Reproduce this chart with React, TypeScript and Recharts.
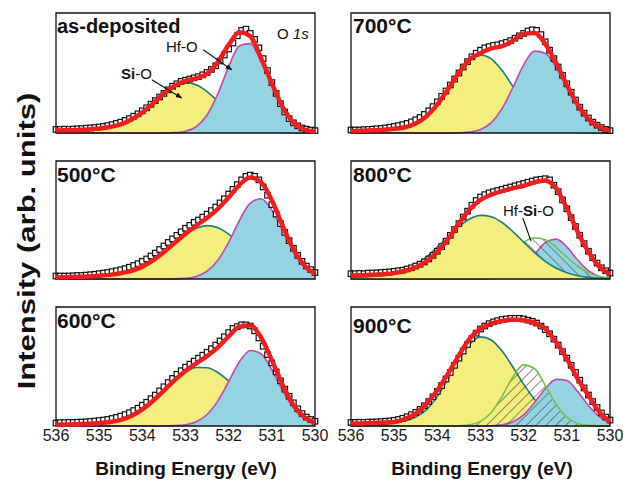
import React from 'react'
import { ComposedChart, Area, Line, Scatter, XAxis, YAxis, ReferenceArea, ReferenceLine } from 'recharts'

// binding energy grids (eV)
const energyData = [536, 535.9, 535.8, 535.7, 535.6, 535.5, 535.4, 535.3, 535.2, 535.1, 535, 534.9, 534.8, 534.7, 534.6, 534.5, 534.4, 534.3, 534.2, 534.1, 534, 533.9, 533.8, 533.7, 533.6, 533.5, 533.4, 533.3, 533.2, 533.1, 533, 532.9, 532.8, 532.7, 532.6, 532.5, 532.4, 532.3, 532.2, 532.1, 532, 531.9, 531.8, 531.7, 531.6, 531.5, 531.4, 531.3, 531.2, 531.1, 531, 530.9, 530.8, 530.7, 530.6, 530.5, 530.4, 530.3, 530.2, 530.1, 530]
const energyFit = [536, 535.75, 535.5, 535.25, 535, 534.75, 534.5, 534.25, 534, 533.75, 533.5, 533.25, 533, 532.75, 532.5, 532.25, 532, 531.75, 531.5, 531.25, 531, 530.75, 530.5, 530.25, 530]
const energyTicks = [536, 535, 534, 533, 532, 531, 530]

// as-deposited
const asDepData = [3, 3, 3.2, 3, 3.3, 3.5, 3.7, 4, 4.2, 4.6, 5, 5.5, 6.2, 7, 8, 9, 10.5, 12, 14, 16, 18.5, 21, 24, 27, 30, 33, 36, 39, 41, 43, 44, 45, 46, 47, 48.5, 50.5, 53, 56, 60, 65, 70, 75, 81, 85.5, 86.5, 83, 78, 71, 62, 52, 42, 33, 24.5, 17.5, 12, 8.5, 6, 4.2, 3.2, 2.5, 2]
const asDepFit = [2, 2.2, 2.5, 3, 3.7, 5, 7.2, 11.2, 17.2, 24.7, 33, 39.5, 43.5, 45.6, 49.5, 59.1, 73.4, 83.9, 80.7, 62.5, 41.3, 21.5, 8.7, 3, 1]
const asDepSiO = [1.5, 1.8, 2.2, 2.8, 3.5, 4.8, 7, 11, 17, 24.5, 32.7, 39.2, 42, 40.2, 34.5, 26.5, 18.2, 11.2, 6.2, 3, 1.3, 0.5, 0.2, 0, 0]
const asDepHfO = [0, 0, 0, 0, 0, 0, 0, 0, 0, 0, 0, 0.3, 1.5, 5.4, 15, 32.6, 55.2, 72.7, 74.5, 59.5, 40, 21, 8.5, 3, 1]

// 500 C
const t500Data = [2.5, 2.5, 2.5, 2.5, 2.7, 3, 3, 3.3, 3.6, 4, 4.5, 5, 5.5, 6.2, 7, 7.8, 8.8, 10, 11.5, 13, 15, 17, 19.5, 22, 25, 28, 31, 34, 37, 40, 43, 45.5, 48, 50, 52.5, 55, 58, 61, 64.5, 68, 72, 76, 80, 84, 87, 88, 87, 84, 78, 71, 63, 55, 47, 39.5, 32.5, 26, 20, 15, 11, 8, 5.5]
const t500Fit = [1.2, 1.5, 1.8, 2.2, 2.8, 3.5, 4.8, 6.8, 10.5, 15.7, 22.8, 30.6, 38.3, 45.2, 51.8, 59.4, 69.1, 79.8, 86.1, 82.1, 66.8, 45.2, 25.3, 11.7, 4.4]
const t500SiO = [1.2, 1.5, 1.8, 2.2, 2.8, 3.5, 4.8, 6.8, 10.5, 15.7, 22.8, 30.5, 37.7, 43, 45.2, 43.5, 38, 30.1, 21.7, 14.1, 8.4, 4.5, 2.2, 1, 0.4]
const t500HfO = [0, 0, 0, 0, 0, 0, 0, 0, 0, 0, 0, 0.1, 0.6, 2.2, 6.6, 15.9, 31.1, 49.7, 64.4, 68, 58.4, 40.7, 23.1, 10.7, 4]

// 600 C
const t600Data = [2.5, 2.8, 2.8, 3, 3, 3.2, 3.3, 3.5, 3.8, 4.2, 4.6, 5, 5.6, 6.3, 7.2, 8.3, 9.6, 11.2, 13, 15, 17.5, 20, 23, 26, 29.5, 33, 36.5, 40, 43.5, 46.5, 49.5, 52, 54.5, 57, 59.5, 62, 65, 68, 71.5, 75, 78.5, 82, 83.5, 85, 85, 84, 80, 74, 67, 60, 53, 45.5, 38, 31, 25, 19.5, 14.5, 10.5, 7.5, 5.5, 4]
const t600Fit = [1, 1.2, 1.5, 1.9, 2.5, 3.3, 5.2, 8.4, 13.9, 21.2, 29.8, 38.6, 46.3, 52.7, 58.7, 66.1, 75.3, 83.4, 84.4, 74.4, 55.4, 34.4, 17.6, 7.5, 2.7]
const t600SiO = [1, 1.2, 1.5, 1.9, 2.5, 3.3, 5.2, 8.4, 13.9, 21.2, 29.8, 38.3, 45.2, 49.1, 49, 45, 37.9, 29.4, 20.9, 13.7, 8.2, 4.6, 2.3, 1.1, 0.5]
const t600HfO = [0, 0, 0, 0, 0, 0, 0, 0, 0, 0, 0, 0.3, 1.1, 3.6, 9.7, 21.1, 37.4, 54, 63.5, 60.7, 47.2, 29.8, 15.3, 6.4, 2.2]

// 700 C
const t700Data = [2.5, 2.5, 2.5, 2.8, 3, 3.2, 3.5, 3.8, 4.2, 4.8, 5.5, 6.2, 7, 8, 9.3, 11, 13, 15.5, 18.5, 22, 26, 30.5, 35, 40, 45, 50, 55, 59.5, 63.5, 66.5, 69, 71, 72, 73, 73.5, 74.5, 75.5, 77, 79, 81, 83, 85, 86, 85.5, 82, 76, 69, 62, 55, 48, 41, 34, 27.5, 21.5, 16.5, 12.5, 9, 6.5, 4.5, 3, 2]
const t700Fit = [1.5, 1.8, 2.2, 2.8, 3.6, 4.8, 8, 14, 23.8, 36.7, 50.2, 61.4, 66.5, 70.5, 72.3, 76.8, 82.6, 83.3, 74.3, 58.5, 40, 23.5, 11.8, 5, 1.8]
const t700SiO = [1.5, 1.8, 2.2, 2.8, 3.6, 4.8, 8, 14, 23.8, 36.7, 50, 60.6, 65, 61.8, 52, 38.9, 25.8, 15.1, 7.9, 3.6, 1.5, 0.5, 0.2, 0, 0]
const t700HfO = [0, 0, 0, 0, 0, 0, 0, 0, 0, 0, 0.2, 0.8, 3, 8.7, 20.3, 37.9, 56.8, 68.2, 66.4, 54.9, 38.5, 23, 11.6, 5, 1.8]

// 800 C
const t800Data = [4.5, 4.5, 4.8, 4.5, 5, 5, 5.2, 5.5, 5.8, 6, 6.5, 7, 7.5, 8.5, 9.5, 11, 12.5, 14.5, 17, 20, 23.5, 27.5, 32, 37, 42, 47, 52.5, 57.5, 62.5, 66.5, 69.5, 71.5, 73, 74, 75, 76, 77, 78, 79, 80, 81, 82, 83, 84, 84.5, 85, 84, 79.5, 74, 67, 59.5, 52, 44.5, 37, 30, 23.5, 18, 13.5, 9.5, 7, 5]
const t800Fit = [3, 3.2, 3.5, 4, 5, 7, 10, 15, 23, 34, 47, 59, 67, 71.5, 74.5, 77, 79, 82, 83.5, 77, 60, 40, 23, 10.5, 4]
const t800SiO = [1.5, 1.8, 2.2, 2.8, 4.2, 7.1, 12, 18.7, 27, 36, 44.5, 50.9, 53.9, 52.8, 47.9, 40.2, 31.3, 22.5, 15, 9.3, 5.3, 2.8, 1.4, 0.6, 0.3]
const t800HfSiO = [0, 0, 0, 0, 0, 0, 0, 0, 0, 0, 0.5, 1.5, 3.9, 8.3, 15.2, 23.6, 31.1, 34.9, 33.2, 26.9, 18.5, 10.8, 5.4, 2.3, 0.8]
const t800HfO = [0, 0, 0, 0, 0, 0, 0, 0, 0, 0, 0, 0, 0, 0.2, 1, 3.7, 10.1, 20.6, 30.8, 33.8, 27.2, 16.1, 7, 2.2, 0.5]

// 900 C
const t900Data = [3, 3, 3.2, 3, 3.3, 3.3, 3.5, 3.7, 4, 4.3, 4.8, 5.5, 6.5, 7.8, 9.5, 11.5, 14, 17, 20.5, 24.5, 29, 34, 39.5, 45, 51, 57, 63, 68.5, 73.5, 78, 81.5, 84, 86, 87.5, 88.5, 89.5, 90, 90.5, 90.5, 90.5, 90, 89, 88, 86.5, 84, 81, 77.5, 73, 68, 62.5, 57, 51, 45, 38.5, 32, 26, 20.5, 15.5, 11, 7.5, 5]
const t900Fit = [2, 2.2, 2.5, 2.9, 3.4, 6, 10.4, 18.8, 30, 44, 59.4, 73.4, 81.8, 86, 88.2, 89.6, 88.8, 86.8, 81.8, 70.6, 56.6, 39.8, 25.8, 11.8, 3.4]
const t900SiO = [1.2, 1.5, 1.9, 2.4, 3.2, 4.3, 7.5, 13.7, 24.9, 39.7, 55.7, 68.8, 74.9, 72.3, 63, 49.6, 35.2, 22.5, 13, 6.8, 3.2, 1.4, 0.5, 0.2, 0]
const t900HfSiO = [0, 0, 0, 0, 0, 0, 0, 0, 0, 0, 0.2, 1, 3.9, 11.4, 24.9, 41.2, 51.4, 48.3, 34.2, 18.3, 7.3, 2.2, 0.5, 0.1, 0]
const t900HfO = [0, 0, 0, 0, 0, 0, 0, 0, 0, 0, 0, 0, 0, 0.2, 1, 3.6, 9.4, 19.5, 31.3, 39.2, 38.2, 29, 17.2, 7.9, 2.8]

const FONT = 'Arial, "Liberation Sans", Helvetica, sans-serif'
const YELLOW = '#f3ee7e'
const TEAL = '#17807f'
const BLUE = '#94d3e2'
const MAGENTA = '#c545b4'
const GREEN = '#72c24b'
const RED = '#f21d1d'
const SQ = 5.5
const PLOT_W = 259

const rows = (xs: number[], ys: number[]) => xs.map((e, i) => ({ e, v: ys[i] }))

const siO = (ys: number[]) => ({ ys, fill: YELLOW, stroke: TEAL })
const hfO = (ys: number[]) => ({ ys, fill: BLUE, stroke: MAGENTA })
const hfSiO = (ys: number[], hatch: string) => ({ ys, fill: `url(#${hatch})`, stroke: GREEN })

const panels = [
  { id: 'ad', x: 56, y: 13, h: 120, data: asDepData, fit: asDepFit, layers: [siO(asDepSiO), hfO(asDepHfO)], axis: false,
    arrows: [[532.59, 69.4, 531.93, 52.7], [533.78, 44.4, 533.09, 29.2]], head: true },
  { id: 't700', x: 351, y: 13, h: 120, data: t700Data, fit: t700Fit, layers: [siO(t700SiO), hfO(t700HfO)], axis: false, arrows: [], head: false },
  { id: 't500', x: 56, y: 161, h: 118, data: t500Data, fit: t500Fit, layers: [siO(t500SiO), hfO(t500HfO)], axis: false, arrows: [], head: false },
  { id: 't800', x: 351, y: 161, h: 118, data: t800Data, fit: t800Fit,
    layers: [hfO(t800HfO), hfSiO(t800HfSiO, 'hatchBack'), siO(t800SiO)], axis: false,
    arrows: [[532.02, 51.7, 531.83, 32.2]], head: false },
  { id: 't600', x: 56, y: 307, h: 119, data: t600Data, fit: t600Fit, layers: [siO(t600SiO), hfO(t600HfO)], axis: true, arrows: [], head: false },
  { id: 't900', x: 351, y: 307, h: 119, data: t900Data, fit: t900Fit,
    layers: [siO(t900SiO), hfO(t900HfO), hfSiO(t900HfSiO, 'hatchFwd')], axis: true, arrows: [], head: false },
]

type P = (typeof panels)[number]

function Axes({ p, labels }: { p: P; labels: boolean }) {
  const axisH = p.axis ? 26 : 0
  return [
    <XAxis
      key="x"
      type="number"
      dataKey="e"
      domain={[530, 536]}
      reversed
      ticks={energyTicks}
      interval={0}
      hide={!p.axis}
      height={axisH}
      tickLine={false}
      axisLine={false}
      tickSize={2}
      tickMargin={2}
      tick={labels ? { fontSize: 16, fill: '#1a1a1a', fontFamily: FONT } : false}
    />,
    <YAxis key="y" type="number" dataKey="v" domain={[0, 100]} hide />,
  ]
}

function Panel({ p }: { p: P }) {
  const axisH = p.axis ? 26 : 0
  const size = { width: PLOT_W + 40, height: p.h + 8 + axisH, margin: { top: 4, right: 20, bottom: 4, left: 20 } }
  return (
    <div style={{ position: 'absolute', left: p.x - 20, top: p.y - 4 }}>
      {/* fitted components and measured points */}
      <ComposedChart {...size}>
        {Axes({ p, labels: true })}
        {p.layers.map((l, i) => (
          <Area
            key={i}
            data={rows(energyFit, l.ys)}
            dataKey="v"
            type="monotone"
            fill={l.fill}
            fillOpacity={1}
            stroke={l.stroke}
            strokeWidth={1.6}
            dot={false}
            activeDot={false}
            isAnimationActive={false}
          />
        ))}
        <Scatter
          data={rows(energyData, p.data)}
          dataKey="v"
          isAnimationActive={false}
          shape={(s: any) => (
            <rect x={s.cx - SQ / 2} y={s.cy - SQ / 2} width={SQ} height={SQ} fill="#fff" stroke="#111" strokeWidth={1.2} />
          )}
        />
      </ComposedChart>
      {/* envelope, annotations and frame on top */}
      <div style={{ position: 'absolute', left: 0, top: 0 }}>
        <ComposedChart {...size}>
          {Axes({ p, labels: false })}
          <Line
            data={rows(energyFit, p.fit)}
            dataKey="v"
            type="monotone"
            stroke={RED}
            strokeWidth={4.5}
            dot={false}
            activeDot={false}
            isAnimationActive={false}
          />
          {p.arrows.map((a, i) => (
            <ReferenceLine
              key={'a' + i}
              segment={[{ x: a[0], y: a[1] }, { x: a[2], y: a[3] }]}
              ifOverflow="visible"
              shape={(s: any) => (
                <line x1={s.x1} y1={s.y1} x2={s.x2} y2={s.y2} stroke="#111" strokeWidth={1.1}
                  markerEnd={p.head ? 'url(#arrowHead)' : undefined} />
              )}
            />
          ))}
          <ReferenceArea x1={536} x2={530} y1={0} y2={100} fill="none" stroke="#111" strokeWidth={1.3} ifOverflow="visible" />
        </ComposedChart>
      </div>
    </div>
  )
}

function Txt({ x, y, size, bold, children }: { x: number; y: number; size: number; bold?: boolean; children: React.ReactNode }) {
  return (
    <div style={{ position: 'absolute', left: x, top: y, fontSize: size, lineHeight: 1, fontWeight: bold ? 700 : 400, whiteSpace: 'nowrap', color: '#111' }}>
      {children}
    </div>
  )
}

export default function App() {
  return (
    <div style={{ position: 'absolute', left: 0, top: 0, width: 623, height: 482, background: '#fff', fontFamily: FONT, overflow: 'hidden' }}>
      <svg width={0} height={0} style={{ position: 'absolute' }}>
        <defs>
          <pattern id="hatchFwd" width={7} height={7} patternUnits="userSpaceOnUse" patternTransform="rotate(45)">
            <line x1={0} y1={0} x2={0} y2={7} stroke="#333" strokeWidth={1.1} />
          </pattern>
          <pattern id="hatchBack" width={7} height={7} patternUnits="userSpaceOnUse" patternTransform="rotate(-45)">
            <line x1={0} y1={0} x2={0} y2={7} stroke="#333" strokeWidth={1.1} />
          </pattern>
          <marker id="arrowHead" viewBox="0 0 10 10" refX={9} refY={5} markerWidth={6} markerHeight={6} orient="auto">
            <path d="M0,1 L10,5 L0,9 z" fill="#111" />
          </marker>
        </defs>
      </svg>

      {panels.map((p) => (
        <Panel key={p.id} p={p} />
      ))}

      <Txt x={57} y={16} size={20} bold>as-deposited</Txt>
      <Txt x={277} y={26} size={15}>O <i>1s</i></Txt>
      <Txt x={166} y={39} size={15}>Hf-O</Txt>
      <Txt x={121} y={66} size={15}><b>Si</b>-O</Txt>
      <Txt x={353} y={15} size={21} bold>700°C</Txt>
      <Txt x={57} y={164} size={21} bold>500°C</Txt>
      <Txt x={353} y={164} size={21} bold>800°C</Txt>
      <Txt x={503} y={203} size={15}>Hf-<b>Si</b>-O</Txt>
      <Txt x={57} y={310} size={21} bold>600°C</Txt>
      <Txt x={353} y={315} size={21} bold>900°C</Txt>

      <div style={{ position: 'absolute', left: 186, top: 459, transform: 'translateX(-50%)', fontSize: 19, fontWeight: 700, lineHeight: 1, whiteSpace: 'nowrap', color: '#111' }}>
        Binding Energy (eV)
      </div>
      <div style={{ position: 'absolute', left: 482, top: 459, transform: 'translateX(-50%)', fontSize: 19, fontWeight: 700, lineHeight: 1, whiteSpace: 'nowrap', color: '#111' }}>
        Binding Energy (eV)
      </div>
      <div style={{ position: 'absolute', left: 26.5, top: 241, transform: 'translate(-50%, -50%) rotate(-90deg) scaleX(1.35)', fontSize: 23, fontWeight: 700, lineHeight: 1, whiteSpace: 'nowrap', color: '#111' }}>
        Intensity (arb. units)
      </div>
    </div>
  )
}
